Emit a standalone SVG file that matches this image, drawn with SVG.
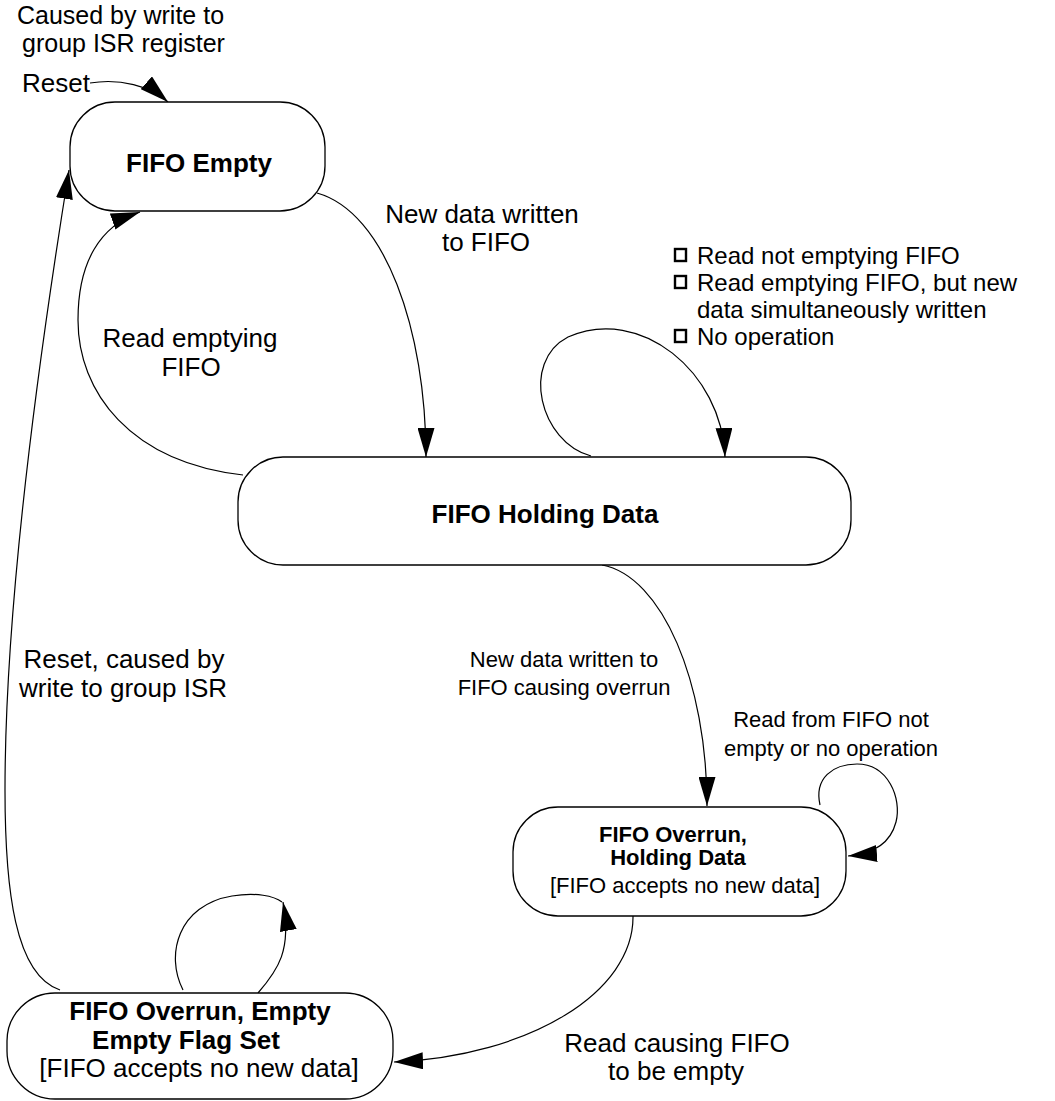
<svg xmlns="http://www.w3.org/2000/svg" width="1055" height="1101" viewBox="0 0 1055 1101">
  <style>
    .state { fill: #ffffff; stroke: #000000; stroke-width: 1.3; }
    .edge { fill: none; stroke: #000000; stroke-width: 1.2; }
    .lbl { font-family: "Liberation Sans", Arial, sans-serif; font-size: 26px; fill: #000000; }
    .lbl-m { font-family: "Liberation Sans", Arial, sans-serif; font-size: 24px; fill: #000000; }
    .lbl-t { font-family: "Liberation Sans", Arial, sans-serif; font-size: 25px; fill: #000000; }
    .lbl-s { font-family: "Liberation Sans", Arial, sans-serif; font-size: 22px; fill: #000000; }
    .title { font-family: "Liberation Sans", Arial, sans-serif; font-size: 26px; font-weight: bold; fill: #000000; }
    .title-s { font-family: "Liberation Sans", Arial, sans-serif; font-size: 22px; font-weight: bold; fill: #000000; }
    .mid { text-anchor: middle; }
    .bullet { fill: none; stroke: #000000; stroke-width: 2.4; }
  </style>
  <defs>
    <marker id="arrow" viewBox="0 0 29 17" refX="29" refY="8.5" markerWidth="29" markerHeight="17" markerUnits="userSpaceOnUse" orient="auto">
      <path d="M0,0 L29,8.5 L0,17 Z" fill="#000000"/>
    </marker>
  </defs>

  <!-- transitions -->
  <g id="connectors">
    <!-- reset entry -->
    <path class="edge" d="M 90 83 C 120 78, 150 86, 168 102" marker-end="url(#arrow)"/>
    <!-- empty -> holding -->
    <path class="edge" d="M 317 193 C 385 212, 426 330, 426 457" marker-end="url(#arrow)"/>
    <!-- holding -> empty -->
    <path class="edge" d="M 243 475 C 130 462, 78 392, 78 320 C 78 262, 100 226, 140 212" marker-end="url(#arrow)"/>
    <!-- holding self loop -->
    <path class="edge" d="M 591 456 C 540 442, 520 362, 568 337 C 640 305, 722 372, 725 457" marker-end="url(#arrow)"/>
    <!-- holding -> overrun holding -->
    <path class="edge" d="M 602 565 C 662 576, 707 682, 707 806" marker-end="url(#arrow)"/>
    <!-- overrun holding self loop -->
    <path class="edge" d="M 820 805 C 814 778, 833 764, 857 764 C 888 764, 902 798, 896 822 C 890 845, 872 854, 848 856" marker-end="url(#arrow)"/>
    <!-- overrun holding -> overrun empty -->
    <path class="edge" d="M 633 916 C 634 992, 530 1056, 394 1062" marker-end="url(#arrow)"/>
    <!-- overrun empty self loop -->
    <path class="edge" d="M 183 990 C 165 955, 178 905, 232 896 C 256 892, 274 896, 282 902"/>
    <path class="edge" d="M 258 993 C 278 970, 292 950, 283 902" marker-end="url(#arrow)"/>
    <!-- overrun empty -> empty (reset) -->
    <path class="edge" d="M 60 990 C 15 975, 5 890, 5 790 C 5 600, 40 350, 69 170" marker-end="url(#arrow)"/>
  </g>

  <!-- states -->
  <g id="fifo-empty">
    <rect class="state" x="70" y="102" width="255" height="109" rx="45" ry="45"/>
    <text class="title mid" x="199" y="172">FIFO Empty</text>
  </g>
  <g id="fifo-holding">
    <rect class="state" x="238" y="457" width="613" height="108" rx="45" ry="45"/>
    <text class="title mid" x="545" y="523">FIFO Holding Data</text>
  </g>
  <g id="fifo-overrun-holding">
    <rect class="state" x="513" y="807" width="333" height="109" rx="45" ry="45"/>
    <text class="title-s mid" x="673" y="842">FIFO Overrun,</text>
    <text class="title-s mid" x="678" y="865">Holding Data</text>
    <text class="lbl-s mid" x="685" y="893">[FIFO accepts no new data]</text>
  </g>
  <g id="fifo-overrun-empty">
    <rect class="state" x="7" y="993" width="386" height="106" rx="48" ry="48"/>
    <text class="title mid" x="200" y="1020">FIFO Overrun, Empty</text>
    <text class="title mid" x="186" y="1049">Empty Flag Set</text>
    <text class="lbl mid" x="199" y="1077">[FIFO accepts no new data]</text>
  </g>

  <!-- transition labels -->
  <g id="labels">
    <text class="lbl-t" x="17" y="24">Caused by write to</text>
    <text class="lbl-t" x="22" y="52">group ISR register</text>
    <text class="lbl" x="22" y="92">Reset</text>
    <text class="lbl mid" x="482" y="223">New data written</text>
    <text class="lbl mid" x="486" y="251">to FIFO</text>
    <text class="lbl mid" x="190" y="347">Read emptying</text>
    <text class="lbl mid" x="191" y="376">FIFO</text>
    <text class="lbl-s mid" x="564" y="667">New data written to</text>
    <text class="lbl-s mid" x="564" y="695">FIFO causing overrun</text>
    <text class="lbl-s mid" x="831" y="727">Read from FIFO not</text>
    <text class="lbl-s mid" x="831" y="756">empty or no operation</text>
    <text class="lbl mid" x="124" y="668">Reset, caused by</text>
    <text class="lbl mid" x="123" y="697">write to group ISR</text>
    <text class="lbl mid" x="677" y="1052">Read causing FIFO</text>
    <text class="lbl mid" x="676" y="1080">to be empty</text>
  </g>

  <!-- condition list for the holding-state loop -->
  <g id="conditions">
    <rect class="bullet" x="675" y="249" width="11" height="12"/>
    <rect class="bullet" x="675" y="276" width="11" height="12"/>
    <rect class="bullet" x="675" y="330" width="11" height="12"/>
    <text class="lbl-m" x="697" y="264">Read not emptying FIFO</text>
    <text class="lbl-m" x="697" y="291">Read emptying FIFO, but new</text>
    <text class="lbl-m" x="697" y="318">data simultaneously written</text>
    <text class="lbl-m" x="697" y="345">No operation</text>
  </g>
</svg>
